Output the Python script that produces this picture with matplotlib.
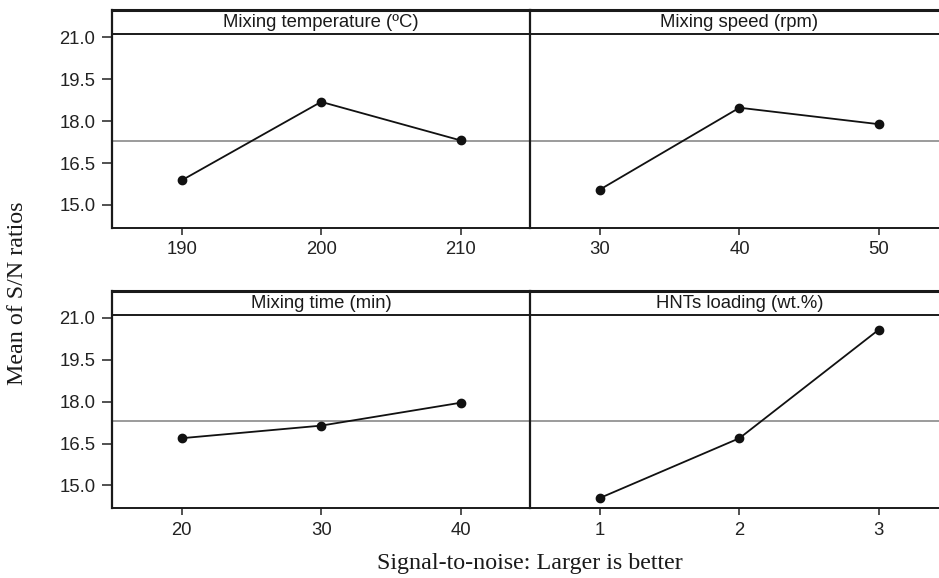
import matplotlib
matplotlib.use("Agg")
import matplotlib.pyplot as plt
import numpy as np

# ---- data ----
titles = ["Mixing temperature (ºC)", "Mixing speed (rpm)",
          "Mixing time (min)", "HNTs loading (wt.%)"]
temp_levels = [190, 200, 210]
temp_sn = [15.88, 18.69, 17.31]
speed_levels = [30, 40, 50]
speed_sn = [15.55, 18.48, 17.89]
time_levels = [20, 30, 40]
time_sn = [16.69, 17.14, 17.96]
hnt_levels = [1, 2, 3]
hnt_sn = [14.55, 16.69, 20.58]
y_ticks = [15.0, 16.5, 18.0, 19.5, 21.0]
grand_mean = 17.29

levels = [temp_levels, speed_levels, time_levels, hnt_levels]
values = [temp_sn, speed_sn, time_sn, hnt_sn]

W, H = 939, 578
fig = plt.figure(figsize=(W / 100, H / 100), dpi=100)

sans = "Liberation Sans"
serif = "Liberation Serif"

left_px = [112.0, 530.3]
panel_w = 418.3
row_top = [10.0, 290.5]
row_h = 217.5

y_lo, y_hi = 14.19, 21.98
strip_y = 21.12

for i in range(4):
    r, c = divmod(i, 2)
    x0 = left_px[c] / W
    y0 = 1 - (row_top[r] + row_h) / H
    ax = fig.add_axes([x0, y0, panel_w / W, row_h / H])
    lv = levels[i]
    step = lv[1] - lv[0]
    ax.set_xlim(lv[0] - step / 2, lv[-1] + step / 2)
    ax.set_ylim(y_lo, y_hi)
    ax.axhline(grand_mean, color="#808080", lw=1.1, zorder=1)
    ax.axhline(strip_y, color="#1a1a1a", lw=1.4, zorder=2)
    ax.plot(lv, values[i], color="#111111", lw=1.3, marker="o",
            markersize=6, markerfacecolor="#111111", zorder=3)
    ax.text(np.mean(ax.get_xlim()), (strip_y + y_hi) / 2 - 0.03, titles[i],
            ha="center", va="center", fontsize=13.3, family=sans,
            color="#1a1a1a")
    ax.set_xticks(lv)
    ax.set_xticklabels([str(v) for v in lv], fontsize=13.3, family=sans,
                       color="#222222")
    ax.tick_params(axis="x", length=5, width=1.1, pad=5, color="#222222")
    for s in ax.spines.values():
        s.set_color("#1a1a1a")
    ax.spines["top"].set_linewidth(2.2)
    ax.spines["bottom"].set_linewidth(1.4)
    ax.spines["left"].set_linewidth(1.6)
    ax.spines["right"].set_visible(False)
    if c == 0:
        ax.set_yticks(y_ticks)
        ax.set_yticklabels([f"{v:.1f}" for v in y_ticks], fontsize=13.3,
                           family=sans, color="#222222")
        ax.tick_params(axis="y", length=7, width=1.1, pad=5,
                       color="#222222")
    else:
        ax.set_yticks([])

fig.text(18 / W, 1 - 293 / H, "Mean of S/N ratios", rotation=90,
         ha="center", va="center", fontsize=17.3, family=serif,
         color="#1a1a1a")
fig.text(530 / W, 1 - 563 / H, "Signal-to-noise: Larger is better",
         ha="center", va="center", fontsize=17.3, family=serif,
         color="#1a1a1a")

fig.savefig("out.png", dpi=100)
